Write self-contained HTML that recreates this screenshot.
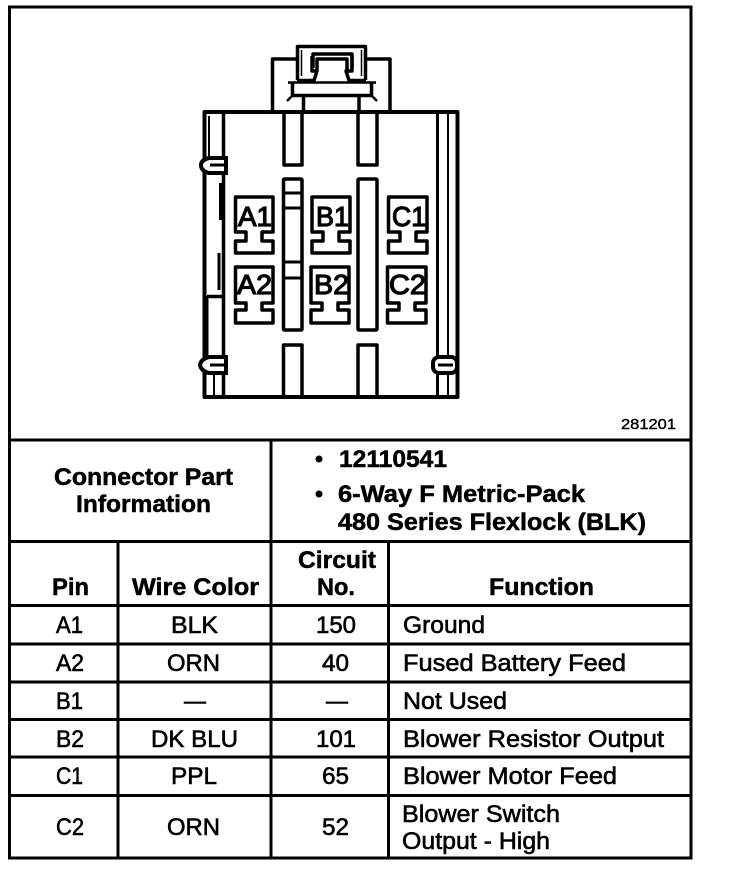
<!DOCTYPE html>
<html>
<head>
<meta charset="utf-8">
<style>
html,body{margin:0;padding:0;background:#fff;width:736px;height:870px;overflow:hidden}
svg{display:block}
text{font-family:"Liberation Sans",Arial,sans-serif;fill:#000;stroke:#000}
.b{font-size:24px;font-weight:bold;stroke-width:.5}
.r{font-size:24px;stroke-width:.6}
.p{fill:none;stroke:#000;stroke-width:3.500;stroke-linejoin:round}
.t{fill:none;stroke:#000;stroke-width:2}
.l{font-size:28px;stroke-width:1.200}
</style>
</head>
<body>
<svg width="736" height="870" viewBox="0 0 736 870" xmlns="http://www.w3.org/2000/svg">
<rect width="736" height="870" fill="#fff"/>
<!-- table frame -->
<g stroke="#000" stroke-width="3" fill="none">
<path d="M9.500 7H691V858H9.500Z"/>
<path d="M9 440H691M9 541.500H691M9 605.500H691M9 644H691M9 682H691M9 719.500H691M9 757H691M9 795.500H691"/>
<path d="M271 440V605M118 541V858M271 605V858M388.500 541V858"/>
</g>
<!-- connector: rear plate and latch -->
<g class="p">
<path d="M272.500 112V59H297M366 59H390V112"/>
<path d="M297.500 80V46.500H365.500V80"/>
<path d="M313 68V54H352V68"/>
<path d="M317 70V59H347V70"/>
<path d="M297 80.500H314L317 71H312V56M366 80.500H349L346 71H352V56"/>
<path d="M288 82.500H376" stroke-width="2.500"/>
<path d="M292.500 83V95.500H371.500V83"/>
<path d="M292 96L287 101M372 96L377 101" stroke-width="2.500"/>
<path d="M303.500 96V112M359 96V112"/>
</g>
<path d="M301.500 50V76" stroke="#000" stroke-width="1.500"/>
<path d="M361.500 50V76" stroke="#000" stroke-width="1.500"/>
<!-- connector body -->
<g class="p">
<path d="M222 112H204.500V397H457.500V112H222" stroke-width="4"/>
<path d="M223.500 113V397"/>
<path d="M207 296.500H223"/>
<path d="M207.500 296V356M214 372V396" stroke-width="2"/>
<path d="M437.500 112V397" stroke-width="3"/>
<path d="M448 113V355M448 373V396" stroke-width="2"/>
</g>
<path d="M209 116V157" stroke="#000" stroke-width="2" fill="none"/>
<path d="M220.500 183V220M219 253V290" stroke="#000" stroke-width="3" fill="none"/>
<!-- clips -->
<g fill="#fff" stroke="#000" stroke-width="4">
<path d="M209 158H226V173H209Q201 171 201 165Q201 160 209 158Z"/>
<path d="M209 357H226V373H209Q201 371 200 365Q201 359 209 357Z"/>
<rect x="433" y="357" width="24" height="16" rx="6"/>
</g>
<path d="M210 165H224M210 365H224M438 365H453" stroke="#000" stroke-width="3"/>
<!-- slots -->
<g class="p">
<path d="M284 112V165H302V112"/>
<path d="M358 112V165H377V112"/>
<rect x="283.500" y="179" width="18.500" height="151" rx="1"/>
<rect x="358" y="179" width="19" height="151" rx="1"/>
<path d="M284 193H302M284 208H302M284 262H302M284 278H302" stroke-width="3"/>
<path d="M283.500 397V345H302V397"/>
<path d="M358 397V345H377V397"/>
</g>
<!-- pins -->
<g class="p">
<path d="M235.500 197H273V232H262V241H273V253H235.500V241H246V232H235.500Z"/>
<path d="M312 197H350V232H339V241H350V253H312V241H323V232H312Z"/>
<path d="M388.500 197H427V232H416V241H427V253H388.500V241H400V232H388.500Z"/>
<path d="M235.500 267H273V303H262V310H273V323H235.500V310H246V303H235.500Z"/>
<path d="M311 267H349V303H338V310H349V323H311V310H322V303H311Z"/>
<path d="M387.500 267H426V303H415V310H426V323H387.500V310H399V303H387.500Z"/>
</g>
<!-- pin labels -->
<text class="l" x="238" y="226" textLength="34" lengthAdjust="spacingAndGlyphs">A1</text>
<text class="l" x="316" y="226" textLength="33" lengthAdjust="spacingAndGlyphs">B1</text>
<text class="l" x="392" y="226" textLength="34" lengthAdjust="spacingAndGlyphs">C1</text>
<text class="l" x="237" y="294" textLength="35" lengthAdjust="spacingAndGlyphs">A2</text>
<text class="l" x="314" y="294" textLength="35" lengthAdjust="spacingAndGlyphs">B2</text>
<text class="l" x="389" y="294" textLength="37" lengthAdjust="spacingAndGlyphs">C2</text>
<text x="621" y="429" font-size="15" stroke-width=".4" textLength="55" lengthAdjust="spacingAndGlyphs">281201</text>
<!-- header -->
<text class="b" x="54" y="485" textLength="179" lengthAdjust="spacingAndGlyphs">Connector Part</text>
<text class="b" x="76" y="512" textLength="135" lengthAdjust="spacingAndGlyphs">Information</text>
<circle cx="319" cy="459" r="3.500" fill="#000"/>
<circle cx="319" cy="494" r="3.500" fill="#000"/>
<text class="b" x="339" y="467" textLength="108" lengthAdjust="spacingAndGlyphs">12110541</text>
<text class="b" x="338" y="502" textLength="247" lengthAdjust="spacingAndGlyphs">6-Way F Metric-Pack</text>
<text class="b" x="338" y="530" textLength="308" lengthAdjust="spacingAndGlyphs">480 Series Flexlock (BLK)</text>
<text class="b" x="298" y="568" textLength="78" lengthAdjust="spacingAndGlyphs">Circuit</text>
<text class="b" x="317" y="595" textLength="38" lengthAdjust="spacingAndGlyphs">No.</text>
<text class="b" x="52" y="595" textLength="37" lengthAdjust="spacingAndGlyphs">Pin</text>
<text class="b" x="132" y="595" textLength="127" lengthAdjust="spacingAndGlyphs">Wire Color</text>
<text class="b" x="489" y="595" textLength="105" lengthAdjust="spacingAndGlyphs">Function</text>
<!-- rows -->
<text class="r" x="56" y="633" textLength="27" lengthAdjust="spacingAndGlyphs">A1</text>
<text class="r" x="171" y="633" textLength="47" lengthAdjust="spacingAndGlyphs">BLK</text>
<text class="r" x="316" y="633" textLength="40" lengthAdjust="spacingAndGlyphs">150</text>
<text class="r" x="403" y="633" textLength="82" lengthAdjust="spacingAndGlyphs">Ground</text>
<text class="r" x="56" y="671" textLength="28" lengthAdjust="spacingAndGlyphs">A2</text>
<text class="r" x="167" y="671" textLength="53" lengthAdjust="spacingAndGlyphs">ORN</text>
<text class="r" x="322" y="671" textLength="27" lengthAdjust="spacingAndGlyphs">40</text>
<text class="r" x="403" y="671" textLength="223" lengthAdjust="spacingAndGlyphs">Fused Battery Feed</text>
<text class="r" x="56" y="709" textLength="27" lengthAdjust="spacingAndGlyphs">B1</text>
<text class="r" x="184" y="709" textLength="22" lengthAdjust="spacingAndGlyphs">—</text>
<text class="r" x="326" y="709" textLength="22" lengthAdjust="spacingAndGlyphs">—</text>
<text class="r" x="403" y="709" textLength="104" lengthAdjust="spacingAndGlyphs">Not Used</text>
<text class="r" x="56" y="747" textLength="28" lengthAdjust="spacingAndGlyphs">B2</text>
<text class="r" x="151" y="747" textLength="87" lengthAdjust="spacingAndGlyphs">DK BLU</text>
<text class="r" x="316" y="747" textLength="40" lengthAdjust="spacingAndGlyphs">101</text>
<text class="r" x="403" y="747" textLength="261" lengthAdjust="spacingAndGlyphs">Blower Resistor Output</text>
<text class="r" x="56" y="784" textLength="27" lengthAdjust="spacingAndGlyphs">C1</text>
<text class="r" x="171" y="784" textLength="46" lengthAdjust="spacingAndGlyphs">PPL</text>
<text class="r" x="322" y="784" textLength="27" lengthAdjust="spacingAndGlyphs">65</text>
<text class="r" x="403" y="784" textLength="214" lengthAdjust="spacingAndGlyphs">Blower Motor Feed</text>
<text class="r" x="56" y="835" textLength="28" lengthAdjust="spacingAndGlyphs">C2</text>
<text class="r" x="167" y="835" textLength="53" lengthAdjust="spacingAndGlyphs">ORN</text>
<text class="r" x="322" y="835" textLength="27" lengthAdjust="spacingAndGlyphs">52</text>
<text class="r" x="402" y="822" textLength="158" lengthAdjust="spacingAndGlyphs">Blower Switch</text>
<text class="r" x="402" y="849" textLength="148" lengthAdjust="spacingAndGlyphs">Output - High</text>
</svg>
</body>
</html>
